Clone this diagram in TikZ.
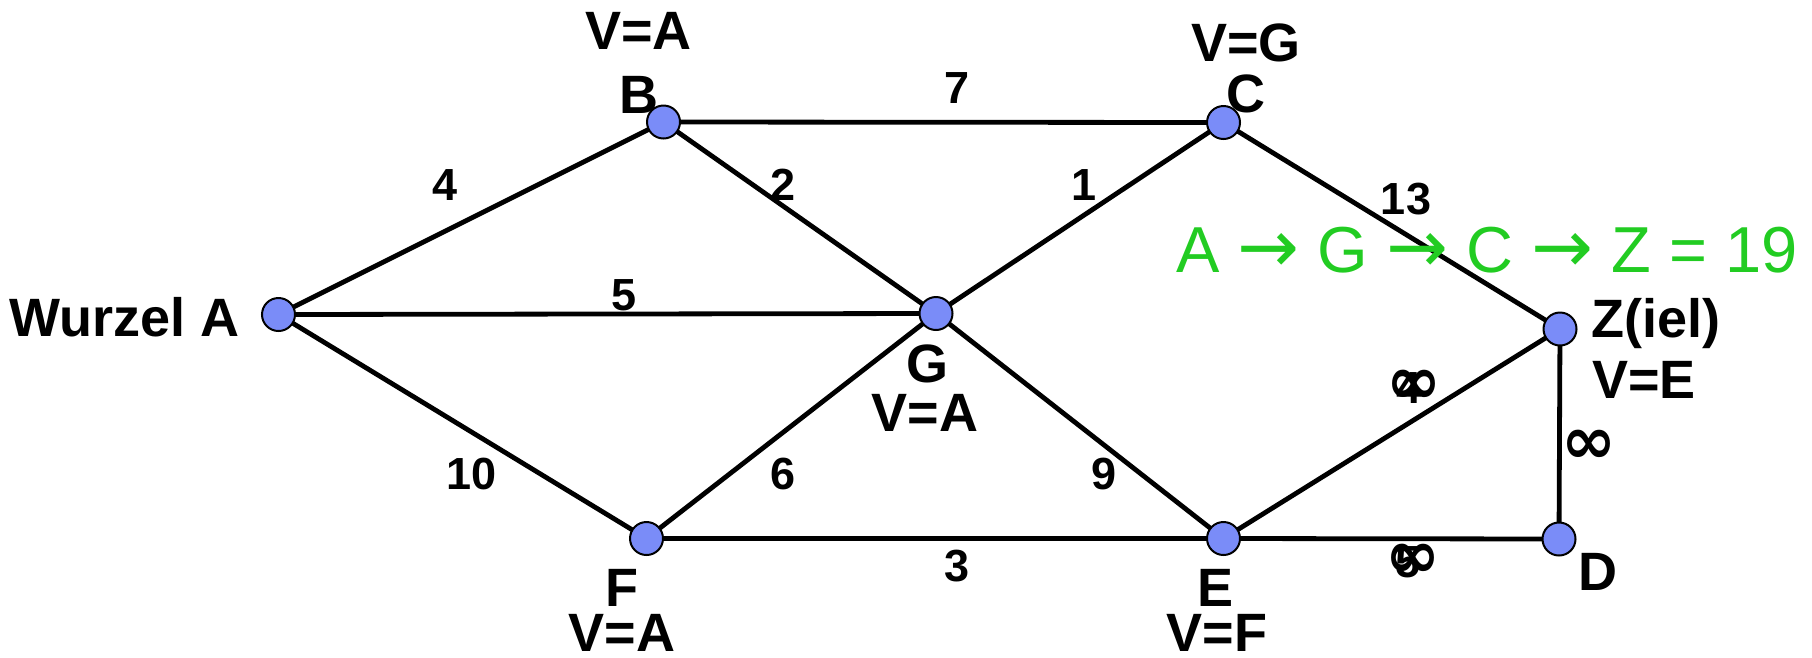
\documentclass[tikz,border=0pt]{standalone}
\usepackage{fontspec}
\setmainfont{Liberation Sans}
\newfontfamily\symfont{DejaVu Sans}
\definecolor{vfill}{RGB}{122,140,248}
\definecolor{pathgreen}{RGB}{34,204,34}
\newcommand{\inftysym}{{\fontsize{66}{66}\selectfont\symfont ∞}}
\newcommand{\rarr}{{\symfont\fontsize{74}{74}\selectfont →}}
\begin{document}
\begin{tikzpicture}[x=1pt,y=-1pt,
  vertex/.style={circle,draw=black,line width=2pt,fill=vfill,minimum size=33pt,inner sep=0pt},
  edge/.style={line width=4.8pt},
  lbl/.style={font=\fontsize{54}{54}\selectfont\bfseries,inner sep=0pt},
  num/.style={font=\fontsize{45}{45}\selectfont\bfseries,inner sep=0pt},
  res/.style={font=\fontsize{65}{65}\selectfont,text=pathgreen,inner sep=0pt}]
\useasboundingbox (0,0) rectangle (1812,657);
% vertex positions
\coordinate (pA) at (278.5,314.5);
\coordinate (pB) at (663.5,122);
\coordinate (pC) at (1223.5,122.5);
\coordinate (pG) at (936,313.5);
\coordinate (pZ) at (1560,329);
\coordinate (pF) at (646.5,538.5);
\coordinate (pE) at (1223.5,538.5);
\coordinate (pD) at (1559,539);
% edges
\draw[edge] (pA) -- (pB);
\draw[edge] (pA) -- (pG);
\draw[edge] (pA) -- (pF);
\draw[edge] (pB) -- (pC);
\draw[edge] (pB) -- (pG);
\draw[edge] (pC) -- (pG);
\draw[edge] (pC) -- (pZ);
\draw[edge] (pG) -- (pF);
\draw[edge] (pG) -- (pE);
\draw[edge] (pF) -- (pE);
\draw[edge] (pE) -- (pZ);
\draw[edge] (pE) -- (pD);
\draw[edge] (pZ) -- (pD);
% vertex circles
\node[vertex] (A) at (pA) {};
\node[vertex] (B) at (pB) {};
\node[vertex] (C) at (pC) {};
\node[vertex] (G) at (pG) {};
\node[vertex] (Z) at (pZ) {};
\node[vertex] (F) at (pF) {};
\node[vertex] (E) at (pE) {};
\node[vertex] (D) at (pD) {};
% vertex labels
\node[lbl,anchor=base east] (lA) at (240,336) {Wurzel A};
\node[lbl] (lB) at (639,95) {B};
\node[lbl] (vB) at (638.5,31) {V=A};
\node[lbl] (lC) at (1246,94) {C};
\node[lbl] (vC) at (1246,43) {V=G};
\node[lbl] (lG) at (927,364) {G};
\node[lbl] (vG) at (925,413) {V=A};
\node[lbl,anchor=base west] (lZ) at (1591,337) {Z(iel)};
\node[lbl,anchor=base west] (vZ) at (1592,398) {V=E};
\node[lbl] (lF) at (622,588) {F};
\node[lbl] (vF) at (622,633) {V=A};
\node[lbl] (lE) at (1215,588) {E};
\node[lbl] (vE) at (1217,633) {V=F};
\node[lbl] (lD) at (1598,572) {D};
% edge weights
\node[num] (wAB) at (445,185) {4};
\node[num] (wAG) at (624,295) {5};
\node[num] (wAF) at (471.5,474) {10};
\node[num] (wBC) at (957,88) {7};
\node[num] (wBG) at (783.5,185) {2};
\node[num] (wCG) at (1084,185) {1};
\node[num] (wCZ) at (1406,199) {13};
\node[num] (wGF) at (783.5,474) {6};
\node[num] (wGE) at (1103.5,474) {9};
\node[num] (wFE) at (957,566) {3};
\node[num,anchor=base] (wEZa) at (1409,403) {4};
\node[num,anchor=base] (wEZb) at (1414,403) {\inftysym};
\node[num,anchor=base] (wEDa) at (1408,577) {5};
\node[num,anchor=base] (wEDb) at (1413,577) {\inftysym};
\node[num,anchor=base] (wZD) at (1589,463) {\inftysym};
% result
\node[res,anchor=base west] (res) at (1176,272) {A \rarr{} G \rarr{} C \rarr{} Z = 19};
\end{tikzpicture}
\end{document}
